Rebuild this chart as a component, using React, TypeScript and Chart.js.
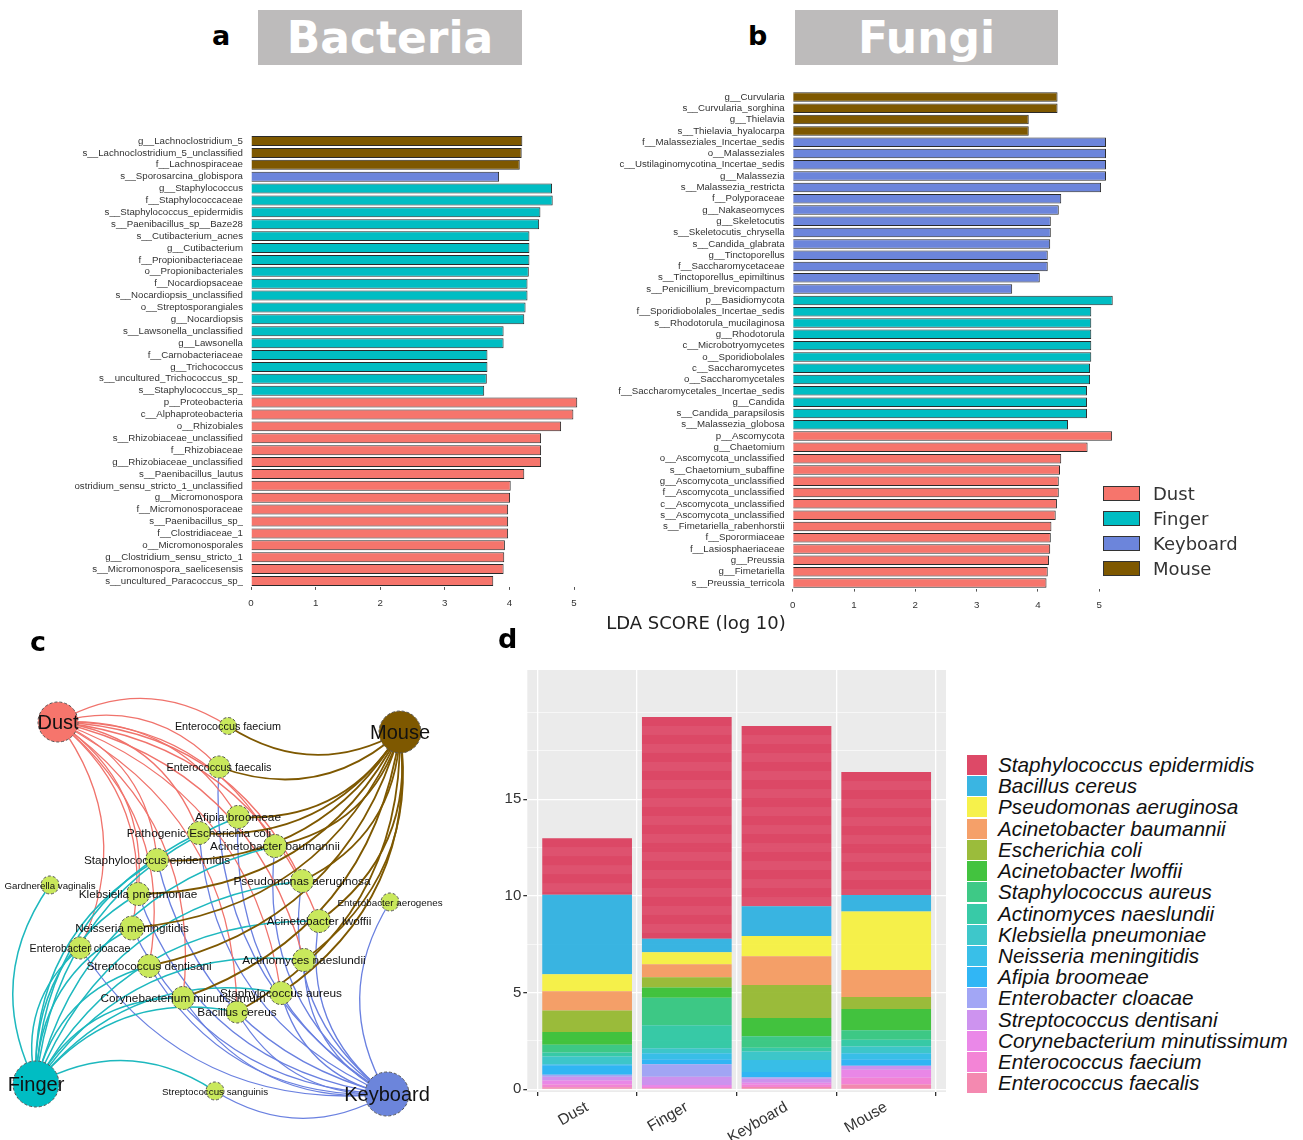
import React, { useEffect, useRef } from "react";
import { Chart, registerables } from "chart.js";

Chart.register(...registerables);

// ---------- LEfSe (panel a): bacteria ----------
const bacteriaTaxa = [
  "g__Lachnoclostridium_5", "s__Lachnoclostridium_5_unclassified", "f__Lachnospiraceae", "s__Sporosarcina_globispora",
  "g__Staphylococcus", "f__Staphylococcaceae", "s__Staphylococcus_epidermidis", "s__Paenibacillus_sp__Baze28",
  "s__Cutibacterium_acnes", "g__Cutibacterium", "f__Propionibacteriaceae", "o__Propionibacteriales",
  "f__Nocardiopsaceae", "s__Nocardiopsis_unclassified", "o__Streptosporangiales", "g__Nocardiopsis",
  "s__Lawsonella_unclassified", "g__Lawsonella", "f__Carnobacteriaceae", "g__Trichococcus",
  "s__uncultured_Trichococcus_sp_", "s__Staphylococcus_sp_", "p__Proteobacteria", "c__Alphaproteobacteria",
  "o__Rhizobiales", "s__Rhizobiaceae_unclassified", "f__Rhizobiaceae", "g__Rhizobiaceae_unclassified",
  "s__Paenibacillus_lautus", "s__Clostridium_sensu_stricto_1_unclassified", "g__Micromonospora", "f__Micromonosporaceae",
  "s__Paenibacillus_sp_", "f__Clostridiaceae_1", "o__Micromonosporales", "g__Clostridium_sensu_stricto_1",
  "s__Micromonospora_saelicesensis", "s__uncultured_Paracoccus_sp_",
];
const bacteriaLDA = [
  4.20, 4.19, 4.16, 3.84, 4.66, 4.67, 4.48, 4.46, 4.31, 4.31, 4.31, 4.30, 4.28, 4.28, 4.25, 4.23,
  3.91, 3.91, 3.66, 3.66, 3.65, 3.61, 5.05, 4.99, 4.80, 4.49, 4.49, 4.49, 4.23, 4.02, 4.01, 3.98,
  3.98, 3.98, 3.93, 3.92, 3.91, 3.75,
];
const bacteriaGroup = [
  "Mouse", "Mouse", "Mouse", "Keyboard",
  "Finger", "Finger", "Finger", "Finger", "Finger", "Finger", "Finger", "Finger", "Finger",
  "Finger", "Finger", "Finger", "Finger", "Finger", "Finger", "Finger", "Finger", "Finger",
  "Dust", "Dust", "Dust", "Dust", "Dust", "Dust", "Dust", "Dust",
  "Dust", "Dust", "Dust", "Dust", "Dust", "Dust", "Dust", "Dust",
];

// ---------- LEfSe (panel b): fungi ----------
const fungiTaxa = [
  "g__Curvularia", "s__Curvularia_sorghina", "g__Thielavia", "s__Thielavia_hyalocarpa",
  "f__Malasseziales_Incertae_sedis", "o__Malasseziales", "c__Ustilaginomycotina_Incertae_sedis", "g__Malassezia",
  "s__Malassezia_restricta", "f__Polyporaceae", "g__Nakaseomyces", "g__Skeletocutis",
  "s__Skeletocutis_chrysella", "s__Candida_glabrata", "g__Tinctoporellus", "f__Saccharomycetaceae",
  "s__Tinctoporellus_epimiltinus", "s__Penicillium_brevicompactum", "p__Basidiomycota", "f__Sporidiobolales_Incertae_sedis",
  "s__Rhodotorula_mucilaginosa", "g__Rhodotorula", "c__Microbotryomycetes", "o__Sporidiobolales",
  "c__Saccharomycetes", "o__Saccharomycetales", "f__Saccharomycetales_Incertae_sedis", "g__Candida",
  "s__Candida_parapsilosis", "s__Malassezia_globosa", "p__Ascomycota", "g__Chaetomium",
  "o__Ascomycota_unclassified", "s__Chaetomium_subaffine", "g__Ascomycota_unclassified", "f__Ascomycota_unclassified",
  "c__Ascomycota_unclassified", "s__Ascomycota_unclassified", "s__Fimetariella_rabenhorstii", "f__Sporormiaceae",
  "f__Lasiosphaeriaceae", "g__Preussia", "g__Fimetariella", "s__Preussia_terricola",
];
const fungiLDA = [
  4.32, 4.32, 3.85, 3.85, 5.11, 5.11, 5.11, 5.11, 5.03, 4.38, 4.34, 4.21, 4.21, 4.20, 4.16, 4.16,
  4.03, 3.58, 5.22, 4.87, 4.87, 4.87, 4.87, 4.87, 4.85, 4.85, 4.80, 4.80, 4.80, 4.49, 5.21, 4.81,
  4.38, 4.36, 4.34, 4.34, 4.31, 4.29, 4.22, 4.21, 4.20, 4.18, 4.16, 4.14,
];
const fungiGroup = [
  "Mouse", "Mouse", "Mouse", "Mouse",
  "Keyboard", "Keyboard", "Keyboard", "Keyboard", "Keyboard", "Keyboard", "Keyboard",
  "Keyboard", "Keyboard", "Keyboard", "Keyboard", "Keyboard", "Keyboard", "Keyboard",
  "Finger", "Finger", "Finger", "Finger", "Finger", "Finger",
  "Finger", "Finger", "Finger", "Finger", "Finger", "Finger",
  "Dust", "Dust", "Dust", "Dust", "Dust", "Dust", "Dust",
  "Dust", "Dust", "Dust", "Dust", "Dust", "Dust", "Dust",
];

const ldaTicks = [0, 1, 2, 3, 4, 5];
const groupNames = ["Dust", "Finger", "Keyboard", "Mouse"];
const groupColors: Record<string, string> = {
  Dust: "#F6756C",
  Finger: "#00BDC3",
  Keyboard: "#6C85DB",
  Mouse: "#7E5800",
};

// ---------- Network (panel c) ----------
const hubNames = ["Dust", "Mouse", "Finger", "Keyboard"];
const hubCodes = ["D", "M", "F", "K"];
const hubX = [58, 400, 36, 387];
const hubY = [82, 92, 444, 454];
const hubR = [20, 21, 23, 22];
const hubEdgeColors = ["#F0736C", "#7E5800", "#1DB8BE", "#6A80E0"];
const hubEdgeWidths = [1.3, 1.8, 1.5, 1.3];
const edgeDrawOrder = ["K", "D", "F", "M"];

const netSpecies = [
  "Enterococcus faecium", "Enterococcus faecalis", "Afipia broomeae", "Pathogenic Escherichia coli",
  "Acinetobacter baumannii", "Staphylococcus epidermidis", "Gardnerella vaginalis", "Klebsiella pneumoniae",
  "Pseudomonas aeruginosa", "Enterobacter aerogenes", "Neisseria meningitidis", "Acinetobacter lwoffii",
  "Enterobacter cloacae", "Streptococcus dentisani", "Actinomyces naeslundii", "Staphylococcus aureus",
  "Corynebacterium minutissimum", "Bacillus cereus", "Streptococcus sanguinis",
];
const netX = [228, 219, 238, 199, 275, 157, 50, 138, 302, 390, 132, 319, 80, 149, 304, 281, 183, 237, 215];
const netY = [86, 127, 177, 193, 206, 220, 245, 254, 241, 262, 288, 281, 308, 326, 320, 353, 358, 372, 451];
const netR = [8.5, 11, 11.5, 11.5, 11.5, 11.5, 9, 11.5, 11.5, 9, 12, 11.5, 11, 11.5, 11.5, 11.5, 11.5, 11, 9];
const netLinks = [
  "DM", "DMK", "DMFK", "DMFK", "DMFK", "DMFK", "F", "DMFK", "DMFK", "K",
  "DMFK", "DMFK", "DFK", "DMFK", "DMFK", "DMFK", "DMFK", "DMFK", "FK",
];
const netFontSize = [10.8, 10.8, 11.8, 11.8, 11.8, 11.8, 9.7, 11.8, 11.8, 9.8, 11.7, 11.8, 10.7, 11.8, 11.8, 11.8, 11.8, 11.8, 9.8];

// ---------- Stacked abundance (panel d) ----------
const surfaces = ["Dust", "Finger", "Keyboard", "Mouse"];
const pathogens = [
  "Staphylococcus epidermidis", "Bacillus cereus", "Pseudomonas aeruginosa", "Acinetobacter baumannii",
  "Escherichia coli", "Acinetobacter lwoffii", "Staphylococcus aureus", "Actinomyces naeslundii",
  "Klebsiella pneumoniae", "Neisseria meningitidis", "Afipia broomeae", "Enterobacter cloacae",
  "Streptococcus dentisani", "Corynebacterium minutissimum", "Enterococcus faecium", "Enterococcus faecalis",
];
const pathogenColors = [
  "#DA3A5A", "#29AFE0", "#F5F03C", "#F4985C", "#92B62A", "#33BE2F", "#2EC47C", "#27C6A0",
  "#2EC2C6", "#28BAE6", "#20B0F4", "#9A9EF4", "#C98AEE", "#E87EE6", "#F27AD2", "#F37FA9",
];
// rows follow the pathogen list; columns follow the surfaces
const staphEpidermidis = [2.93, 11.47, 9.32, 6.36];
const bacillusCereus = [4.11, 0.70, 1.54, 0.85];
const pseudomonasAeruginosa = [0.88, 0.62, 1.05, 3.03];
const acinetobacterBaumannii = [1.00, 0.68, 1.48, 1.39];
const escherichiaColi = [1.10, 0.53, 1.71, 0.62];
const acinetobacterLwoffii = [0.67, 0.52, 0.95, 1.10];
const staphAureus = [0.40, 1.43, 0.59, 0.50];
const actinomycesNaeslundii = [0.20, 1.19, 0.20, 0.35];
const klebsiellaPneumoniae = [0.40, 0.26, 0.43, 0.34];
const neisseriaMeningitidis = [0.05, 0.30, 0.63, 0.31];
const afipiaBroomeae = [0.50, 0.27, 0.27, 0.34];
const enterobacterCloacae = [0.10, 0.64, 0.08, 0.00];
const streptococcusDentisani = [0.20, 0.43, 0.20, 0.21];
const corynebacteriumMinutissimum = [0.20, 0.10, 0.10, 0.41];
const enterococcusFaecium = [0.15, 0.06, 0.12, 0.35];
const enterococcusFaecalis = [0.10, 0.06, 0.12, 0.25];
const abundanceRows = [
  staphEpidermidis, bacillusCereus, pseudomonasAeruginosa, acinetobacterBaumannii,
  escherichiaColi, acinetobacterLwoffii, staphAureus, actinomycesNaeslundii,
  klebsiellaPneumoniae, neisseriaMeningitidis, afipiaBroomeae, enterobacterCloacae,
  streptococcusDentisani, corynebacteriumMinutissimum, enterococcusFaecium, enterococcusFaecalis,
];
const abundanceMajor = [0, 5, 10, 15];
const abundanceGrid = [0, 2.5, 5, 7.5, 10, 12.5, 15, 17.5, 19.5];

const LABEL_FONT = "'Liberation Sans', Arial, sans-serif";

type LdaGeom = { yAxisW: number; xAxisH: number; padTop: number; padRight: number; padBottom: number; xMax: number };

function ldaConfig(labels: string[], scores: number[], groups: string[], g: LdaGeom): any {
  return {
    type: "bar",
    data: {
      labels,
      datasets: [
        {
          data: scores,
          backgroundColor: groups.map((k) => groupColors[k]),
          borderColor: "#2a2a2a",
          borderWidth: 1,
          barPercentage: 0.84,
          categoryPercentage: 1,
        },
      ],
    },
    options: {
      indexAxis: "y",
      animation: false,
      responsive: false,
      maintainAspectRatio: false,
      layout: { padding: { left: 0, right: g.padRight, top: g.padTop, bottom: g.padBottom } },
      plugins: { legend: { display: false }, tooltip: { enabled: false } },
      scales: {
        x: {
          min: 0,
          max: g.xMax,
          afterBuildTicks: (s: any) => {
            s.ticks = ldaTicks.map((v) => ({ value: v }));
          },
          afterFit: (s: any) => {
            s.height = g.xAxisH;
          },
          grid: { drawOnChartArea: false, drawTicks: true, tickLength: 3, tickColor: "#555" },
          border: { display: false },
          ticks: { font: { family: LABEL_FONT, size: 9.7 }, color: "#333", padding: 8 },
        },
        y: {
          afterFit: (s: any) => {
            s.width = g.yAxisW;
          },
          grid: { display: false, drawTicks: false },
          border: { display: false },
          ticks: { autoSkip: false, font: { family: LABEL_FONT, size: 9.7 }, color: "#333", padding: 8 },
        },
      },
    },
  };
}

const networkPlugin = {
  id: "networkEdges",
  beforeDatasetsDraw(chart: any) {
    const { ctx, scales } = chart;
    const sx = scales.x;
    const sy = scales.y;
    const bend = 0.3;
    ctx.save();
    ctx.lineCap = "round";
    edgeDrawOrder.forEach((code) => {
      const hi = hubCodes.indexOf(code);
      const hx = sx.getPixelForValue(hubX[hi]);
      const hy = sy.getPixelForValue(hubY[hi]);
      ctx.strokeStyle = hubEdgeColors[hi];
      ctx.lineWidth = hubEdgeWidths[hi];
      netSpecies.forEach((_, si) => {
        if (!netLinks[si].includes(code)) return;
        const tx = sx.getPixelForValue(netX[si]);
        const ty = sy.getPixelForValue(netY[si]);
        const dx = tx - hx;
        const dy = ty - hy;
        const cx = (hx + tx) / 2 + dy * bend;
        const cy = (hy + ty) / 2 - dx * bend;
        ctx.beginPath();
        ctx.moveTo(hx, hy);
        ctx.quadraticCurveTo(cx, cy, tx, ty);
        ctx.stroke();
      });
    });
    ctx.restore();
  },
  afterDatasetsDraw(chart: any) {
    const { ctx } = chart;
    const meta = chart.getDatasetMeta(0);
    const radii = [...hubR, ...netR];
    const names = [...hubNames, ...netSpecies];
    const sizes = [...hubNames.map(() => 20), ...netFontSize];
    ctx.save();
    ctx.setLineDash([3, 2]);
    ctx.strokeStyle = "#555";
    ctx.lineWidth = 1;
    meta.data.forEach((el: any, i: number) => {
      ctx.beginPath();
      ctx.arc(el.x, el.y, radii[i], 0, Math.PI * 2);
      ctx.stroke();
    });
    ctx.setLineDash([]);
    ctx.textAlign = "center";
    ctx.textBaseline = "middle";
    ctx.fillStyle = "#111";
    meta.data.forEach((el: any, i: number) => {
      ctx.font = `${sizes[i]}px ${LABEL_FONT}`;
      ctx.fillText(names[i], el.x, el.y + 1);
    });
    ctx.restore();
  },
};

const panelBackground = {
  id: "panelBackground",
  beforeDraw(chart: any) {
    const { ctx, chartArea: a } = chart;
    ctx.save();
    ctx.fillStyle = "#EBEBEB";
    ctx.fillRect(a.left, a.top, a.right - a.left, a.bottom - a.top);
    ctx.restore();
  },
};

// the top segment is pooled from many samples; faint banding shows the pooled pieces
const pooledBanding = {
  id: "pooledBanding",
  afterDatasetsDraw(chart: any) {
    const { ctx } = chart;
    const idx = chart.data.datasets.findIndex((d: any) => d.label === pathogens[0]);
    if (idx < 0) return;
    const meta = chart.getDatasetMeta(idx);
    ctx.save();
    meta.data.forEach((el: any) => {
      const left = el.x - el.width / 2;
      const top = Math.min(el.y, el.base);
      const bottom = Math.max(el.y, el.base);
      ctx.fillStyle = "rgba(255,255,255,0.06)";
      for (let y = top + 9; y < bottom; y += 18) {
        ctx.fillRect(left, y, el.width, Math.min(9, bottom - y));
      }
    });
    ctx.restore();
  },
};

function withAlpha(hex: string, a: number) {
  const n = parseInt(hex.slice(1), 16);
  return `rgba(${(n >> 16) & 255},${(n >> 8) & 255},${n & 255},${a})`;
}

export default function App() {
  const aRef = useRef<HTMLCanvasElement>(null);
  const bRef = useRef<HTMLCanvasElement>(null);
  const cRef = useRef<HTMLCanvasElement>(null);
  const dRef = useRef<HTMLCanvasElement>(null);

  useEffect(() => {
    const charts: Chart[] = [];

    charts.push(
      new Chart(
        aRef.current!,
        ldaConfig(bacteriaTaxa, bacteriaLDA, bacteriaGroup, {
          yAxisW: 176, xAxisH: 30, padTop: 25.05, padRight: 6.6, padBottom: 3.1, xMax: 5.3,
        })
      )
    );
    charts.push(
      new Chart(
        bRef.current!,
        ldaConfig(fungiTaxa, fungiLDA, fungiGroup, {
          yAxisW: 192.7, xAxisH: 28, padTop: 25.35, padRight: 9.3, padBottom: 3.4, xMax: 5.35,
        })
      )
    );

    const nodeData = [
      ...hubNames.map((_, i) => ({ x: hubX[i], y: hubY[i], r: hubR[i] })),
      ...netSpecies.map((_, i) => ({ x: netX[i], y: netY[i], r: netR[i] })),
    ];
    const nodeColors = [...hubNames.map((n) => groupColors[n]), ...netSpecies.map(() => "#C9E85C")];
    charts.push(
      new Chart(cRef.current!, {
        type: "bubble",
        data: {
          datasets: [
            {
              data: nodeData,
              backgroundColor: nodeColors,
              borderWidth: 0,
              hoverBorderWidth: 0,
              clip: false,
            },
          ],
        },
        options: {
          animation: false,
          responsive: false,
          maintainAspectRatio: false,
          layout: { padding: 0, autoPadding: false },
          plugins: { legend: { display: false }, tooltip: { enabled: false } },
          scales: {
            x: { type: "linear", min: 0, max: 490, display: false },
            y: { type: "linear", min: 0, max: 500, reverse: true, display: false },
          },
        } as any,
        plugins: [networkPlugin],
      } as any)
    );

    const stackOrder = pathogens.map((_, i) => i).reverse();
    charts.push(
      new Chart(dRef.current!, {
        type: "bar",
        data: {
          datasets: stackOrder.map((i) => ({
            label: pathogens[i],
            data: surfaces.map((_, j) => ({ x: j + 1, y: abundanceRows[i][j] })),
            backgroundColor: withAlpha(pathogenColors[i], 0.92),
            borderWidth: 0,
            barPercentage: 0.9,
            categoryPercentage: 1,
          })),
        },
        options: {
          animation: false,
          responsive: false,
          maintainAspectRatio: false,
          layout: { padding: { left: 0, right: 14, top: 30, bottom: 0 } },
          plugins: { legend: { display: false }, tooltip: { enabled: false } },
          scales: {
            x: {
              type: "linear",
              stacked: true,
              min: 0.4,
              max: 4.6,
              offset: false,
              afterBuildTicks: (s: any) => {
                s.ticks = surfaces.map((_, j) => ({ value: j + 1 }));
              },
              afterFit: (s: any) => {
                s.height = 48;
              },
              ticks: {
                callback: (v: number) => surfaces[Math.round(v) - 1] ?? "",
                maxRotation: 30,
                minRotation: 30,
                font: { family: LABEL_FONT, size: 15.5 },
                color: "#333",
                padding: 2,
              },
              grid: { color: "#ffffff", lineWidth: 1.3, tickColor: "#333", tickLength: 4 },
              border: { display: false },
            },
            y: {
              stacked: true,
              min: -0.14,
              max: 21.69,
              afterBuildTicks: (s: any) => {
                s.ticks = abundanceGrid.map((v) => ({ value: v }));
              },
              afterFit: (s: any) => {
                s.width = 37.3;
              },
              ticks: {
                callback: (v: number) => (abundanceMajor.includes(v) ? String(v) : ""),
                font: { family: LABEL_FONT, size: 15 },
                color: "#333",
                padding: 2,
              },
              grid: {
                color: "#ffffff",
                lineWidth: (c: any) => (c.tick && abundanceMajor.includes(c.tick.value) ? 1.3 : 0.6),
                tickColor: (c: any) => (c.tick && abundanceMajor.includes(c.tick.value) ? "#333" : "rgba(0,0,0,0)"),
                tickLength: 4,
              },
              border: { display: false },
            },
          },
        } as any,
        plugins: [panelBackground, pooledBanding],
      } as any)
    );

    return () => charts.forEach((c) => c.destroy());
  }, []);

  const abs = (o: React.CSSProperties): React.CSSProperties => ({ position: "absolute", ...o });
  const letter = "bold 27px 'DejaVu Sans', sans-serif";
  const titleBox: React.CSSProperties = {
    background: "#BDBBBB",
    color: "#fff",
    font: "bold 44px 'DejaVu Sans', sans-serif",
    textAlign: "center",
    lineHeight: "55px",
    height: 55,
  };

  return (
    <div style={abs({ left: 0, top: 0, width: 1303, height: 1140, background: "#fff", overflow: "hidden" })}>
      <canvas ref={aRef} width={525} height={510} style={abs({ left: 75, top: 110, width: 525, height: 510 })} />
      <canvas ref={bRef} width={530} height={554} style={abs({ left: 600, top: 66, width: 530, height: 554 })} />
      <canvas ref={cRef} width={490} height={500} style={abs({ left: 0, top: 640, width: 490, height: 500 })} />
      <canvas ref={dRef} width={470} height={500} style={abs({ left: 490, top: 640, width: 470, height: 500 })} />

      <div style={abs({ left: 212, top: 22, font: letter, lineHeight: "27px", color: "#000" })}>a</div>
      <div style={abs({ left: 748, top: 22, font: letter, lineHeight: "27px", color: "#000" })}>b</div>
      <div style={abs({ left: 30, top: 628, font: letter, lineHeight: "27px", color: "#000" })}>c</div>
      <div style={abs({ left: 498, top: 625, font: letter, lineHeight: "27px", color: "#000" })}>d</div>

      <div style={abs({ left: 258, top: 10, width: 264, ...titleBox })}>Bacteria</div>
      <div style={abs({ left: 795, top: 10, width: 263, ...titleBox })}>Fungi</div>

      <div
        style={abs({
          left: 596, top: 612, width: 200, textAlign: "center",
          font: "18px 'DejaVu Sans', sans-serif", lineHeight: "22px", color: "#222",
        })}
      >
        LDA SCORE (log 10)
      </div>

      {groupNames.map((g, i) => (
        <React.Fragment key={g}>
          <div
            style={abs({
              left: 1103, top: 494 + i * 25 - 8, width: 37, height: 15,
              background: groupColors[g], border: "1px solid #333", boxSizing: "border-box",
            })}
          />
          <div
            style={abs({
              left: 1153, top: 494 + i * 25 - 11, font: "18px 'DejaVu Sans', sans-serif",
              lineHeight: "22px", color: "#333", whiteSpace: "nowrap",
            })}
          >
            {g}
          </div>
        </React.Fragment>
      ))}

      {pathogens.map((p, i) => (
        <React.Fragment key={p}>
          <div
            style={abs({
              left: 967, top: 765 + i * 21.22 - 10, width: 20, height: 20,
              background: withAlpha(pathogenColors[i], 0.92),
            })}
          />
          <div
            style={abs({
              left: 998, top: 765 + i * 21.22 - 11, font: `italic 20.7px ${LABEL_FONT}`,
              lineHeight: "22px", color: "#111", whiteSpace: "nowrap",
            })}
          >
            {p}
          </div>
        </React.Fragment>
      ))}
    </div>
  );
}
